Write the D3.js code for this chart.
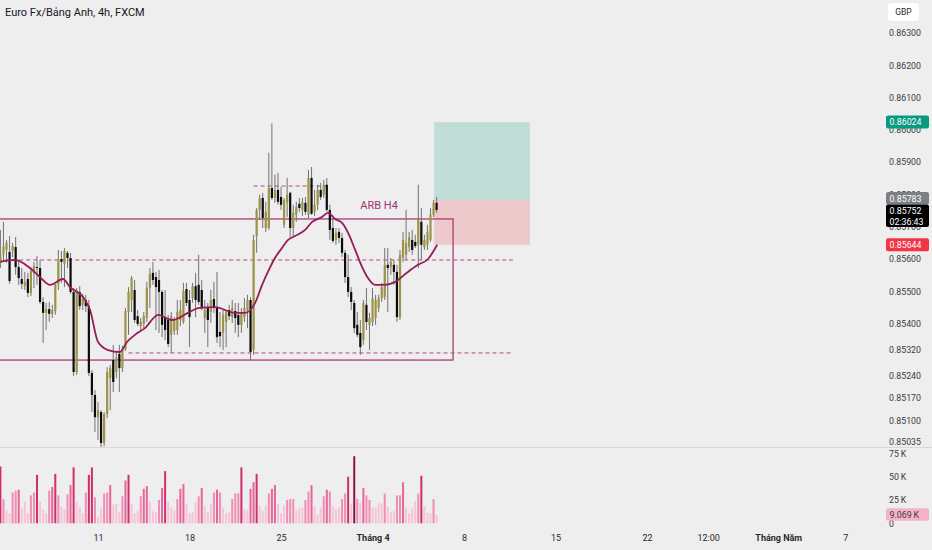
<!DOCTYPE html>
<html>
<head>
<meta charset="utf-8">
<script src="https://cdn.jsdelivr.net/npm/d3@7"></script>
<style>
  body { margin: 0; background: #eeeeee; }
  svg text { font-family: Roboto, "Noto Sans", sans-serif; }
</style>
</head>
<body>
<script>

var W = 932, H = 550;

var title = "Euro Fx/Bảng Anh, 4h, FXCM";

// 4h candles, oldest first
var opens = [0.85591,
  0.85613,0.85628,0.85622,0.85625,0.85637,0.85575,0.85538,0.85516,0.85538,0.85495,
  0.85557,0.85575,0.85572,0.85467,0.85433,0.85445,0.85430,0.85439,0.85523,0.85600,
  0.85585,0.85619,0.85603,0.85498,0.85250,0.85498,0.85458,0.85473,0.85454,0.85247,
  0.85179,0.85110,0.85126,0.85030,0.85120,0.85231,0.85287,0.85250,0.85306,0.85262,
  0.85321,0.85436,0.85473,0.85504,0.85423,0.85392,0.85399,0.85417,0.85510,0.85557,
  0.85544,0.85535,0.85498,0.85417,0.85411,0.85365,0.85377,0.85380,0.85411,0.85405,
  0.85507,0.85473,0.85479,0.85516,0.85520,0.85504,0.85417,0.85448,0.85436,0.85476,
  0.85451,0.85374,0.85371,0.85405,0.85442,0.85420,0.85439,0.85427,0.85396,0.85420,
  0.85442,0.85473,0.85318,0.85671,0.85752,0.85789,0.85696,0.85696,0.85820,0.85789,
  0.85814,0.85792,0.85706,0.85774,0.85805,0.85696,0.85737,0.85771,0.85752,0.85774,
  0.85737,0.85851,0.85746,0.85768,0.85814,0.85799,0.85830,0.85752,0.85696,0.85659,
  0.85684,0.85665,0.85619,0.85544,0.85498,0.85464,0.85396,0.85371,0.85349,0.85458,
  0.85396,0.85405,0.85417,0.85448,0.85479,0.85482,0.85582,0.85575,0.85582,0.85560,
  0.85420,0.85603,0.85613,0.85637,0.85659,0.85653,0.85644,0.85715,0.85637,0.85644,
  0.85659,0.85737,0.85774];
var highs = [0.85690,
  0.85715,0.85659,0.85671,0.85650,0.85668,0.85591,0.85572,0.85560,0.85557,0.85575,
  0.85591,0.85609,0.85597,0.85482,0.85464,0.85467,0.85458,0.85520,0.85628,0.85625,
  0.85634,0.85625,0.85619,0.85510,0.85510,0.85516,0.85492,0.85489,0.85473,0.85256,
  0.85194,0.85157,0.85132,0.85126,0.85265,0.85272,0.85334,0.85312,0.85334,0.85331,
  0.85448,0.85513,0.85547,0.85535,0.85442,0.85417,0.85436,0.85529,0.85572,0.85591,
  0.85560,0.85566,0.85504,0.85504,0.85427,0.85436,0.85420,0.85473,0.85473,0.85526,
  0.85526,0.85504,0.85526,0.85557,0.85613,0.85535,0.85473,0.85464,0.85504,0.85529,
  0.85560,0.85436,0.85442,0.85442,0.85458,0.85473,0.85464,0.85464,0.85448,0.85479,
  0.85489,0.85482,0.85675,0.85758,0.85799,0.85805,0.85777,0.85929,0.86020,0.85861,
  0.85867,0.85823,0.85789,0.85851,0.85808,0.85768,0.85777,0.85789,0.85789,0.85792,
  0.85876,0.85885,0.85814,0.85830,0.85836,0.85845,0.85851,0.85768,0.85727,0.85696,
  0.85696,0.85681,0.85628,0.85613,0.85513,0.85473,0.85436,0.85411,0.85473,0.85510,
  0.85433,0.85510,0.85489,0.85489,0.85526,0.85634,0.85634,0.85603,0.85597,0.85582,
  0.85628,0.85684,0.85752,0.85684,0.85690,0.85675,0.85830,0.85758,0.85675,0.85706,
  0.85758,0.85783,0.85792];
var lows = [0.85572,
  0.85591,0.85588,0.85523,0.85606,0.85551,0.85520,0.85507,0.85504,0.85482,0.85485,
  0.85510,0.85520,0.85461,0.85340,0.85380,0.85405,0.85417,0.85427,0.85504,0.85526,
  0.85513,0.85572,0.85492,0.85237,0.85241,0.85442,0.85442,0.85436,0.85237,0.85126,
  0.85064,0.85039,0.85017,0.85020,0.85107,0.85132,0.85188,0.85231,0.85188,0.85250,
  0.85315,0.85365,0.85436,0.85402,0.85392,0.85380,0.85386,0.85405,0.85448,0.85520,
  0.85380,0.85371,0.85358,0.85349,0.85327,0.85309,0.85365,0.85365,0.85392,0.85399,
  0.85454,0.85327,0.85464,0.85420,0.85458,0.85442,0.85371,0.85327,0.85402,0.85433,
  0.85340,0.85327,0.85318,0.85327,0.85411,0.85402,0.85371,0.85358,0.85371,0.85405,
  0.85386,0.85287,0.85303,0.85619,0.85721,0.85696,0.85684,0.85690,0.85783,0.85774,
  0.85768,0.85752,0.85696,0.85730,0.85665,0.85668,0.85715,0.85746,0.85733,0.85737,
  0.85727,0.85737,0.85733,0.85752,0.85783,0.85789,0.85746,0.85659,0.85650,0.85644,
  0.85650,0.85606,0.85526,0.85482,0.85442,0.85371,0.85358,0.85303,0.85334,0.85380,
  0.85318,0.85392,0.85396,0.85436,0.85467,0.85473,0.85436,0.85551,0.85520,0.85405,
  0.85411,0.85591,0.85597,0.85622,0.85613,0.85634,0.85572,0.85597,0.85628,0.85628,
  0.85653,0.85730,0.85743];
var closes = [0.85613,
  0.85640,0.85650,0.85532,0.85640,0.85575,0.85541,0.85523,0.85529,0.85495,0.85563,
  0.85578,0.85572,0.85467,0.85433,0.85445,0.85430,0.85442,0.85523,0.85600,0.85591,
  0.85625,0.85603,0.85498,0.85250,0.85498,0.85454,0.85479,0.85454,0.85247,0.85179,
  0.85110,0.85132,0.85030,0.85120,0.85250,0.85262,0.85219,0.85293,0.85262,0.85321,
  0.85439,0.85498,0.85541,0.85411,0.85399,0.85405,0.85423,0.85510,0.85554,0.85535,
  0.85513,0.85498,0.85396,0.85380,0.85337,0.85423,0.85411,0.85436,0.85442,0.85501,
  0.85464,0.85420,0.85516,0.85473,0.85467,0.85448,0.85442,0.85411,0.85473,0.85448,
  0.85358,0.85361,0.85427,0.85436,0.85423,0.85448,0.85417,0.85396,0.85433,0.85448,
  0.85473,0.85312,0.85659,0.85752,0.85789,0.85727,0.85746,0.85820,0.85789,0.85814,
  0.85777,0.85768,0.85783,0.85799,0.85696,0.85743,0.85761,0.85758,0.85777,0.85746,
  0.85851,0.85740,0.85768,0.85814,0.85792,0.85830,0.85752,0.85690,0.85656,0.85681,
  0.85665,0.85619,0.85544,0.85498,0.85467,0.85386,0.85365,0.85327,0.85464,0.85405,
  0.85417,0.85479,0.85473,0.85479,0.85513,0.85582,0.85572,0.85591,0.85560,0.85420,
  0.85613,0.85659,0.85650,0.85668,0.85628,0.85640,0.85721,0.85644,0.85659,0.85684,
  0.85737,0.85774,0.85752];
// volume in thousands
var volumes = [61,26,14,11,33,35,36,16,23,11, 30,33,52,23,15,11,35,39,53,30,
  18,15,31,41,60,23,17,11,33,52, 60,28,7,16,32,33,41,20,21,12,
  29,46,52,21,11,13,29,37,40,23, 13,12,25,38,56,23,17,14,26,37,
  42,21,11,12,23,29,38,19,12,21, 33,36,33,17,11,12,26,32,32,60,
  15,14,37,44,53,19,13,19,32,37, 41,21,11,19,25,26,26,14,16,17,
  25,34,41,18,9,17,29,36,34,18, 15,17,26,32,50,21,72,26,22,38,
  30,25,17,17,22,21,32,18,12,13, 30,30,44,17,11,16,24,32,51,18,
  11,11,26,9.069];

// moving average (candle index, price)
var maIdx = [0,4.8,9.7,13,16.3,20.5,22.8,27.1,29.4,32,35.3,39.2,41.5,44.1,47.4,51.7,56.3,61.5,64.8,70.4,
  76.9,80.2,83.5,85.8,87.7,90,92.3,94.3,96.6,99.9,102.2,105.4,107.4,109.7,112,114,116.3,118.6,120.5,122.8,
  126.1,129.4,133.6,136.9,140.2,143.2];
var maVals = [0.85591,0.85597,0.85572,0.85544,0.85520,0.85538,0.85513,0.85482,0.85442,0.85343,
  0.85318,0.85312,0.85343,0.85365,0.85386,0.85427,0.85411,0.85433,0.85448,0.85451,
  0.85433,0.85433,0.85464,0.85520,0.85560,0.85603,0.85634,0.85659,0.85671,0.85690,
  0.85715,0.85730,0.85743,0.85724,0.85712,0.85681,0.85628,0.85575,0.85541,0.85520,
  0.85520,0.85529,0.85560,0.85582,0.85600,0.85644];

var priceTicks = [0.863,0.862,0.861,0.860,0.859,0.858,0.857,0.856,0.855,0.854,0.8532,0.8524,0.8517,0.851,0.85035];
var volTicks = [0, 25000, 50000, 75000];
var dateIdx = [32, 62, 92, 122, 152, 182, 212, 232, 255, 277];
var dateLabels = ["11", "18", "25", "Tháng 4", "8", "15", "22", "12:00", "Tháng Năm", "7"];
var monthLabels = ["Tháng 4", "Tháng Năm"];

// drawings
var zoneTop = 0.85724, zoneBottom = 0.85287, zoneEnd = 148.4;
var levelPrices = [0.85597, 0.85309, 0.85826];
var levelFrom = [-3, 42, 83];
var levelTo = [168, 168, 108];
var posFrom = 142.2, posTo = 173.6;
var takeProfit = 0.86024, entry = 0.85783, stopLoss = 0.85644;
var lastPrice = 0.85752, countdown = "02:36:43", lastVolume = "9.069\u2009K";

var svg = d3.select("body").append("svg")
    .attr("width", W)
    .attr("height", H);

svg.append("rect").attr("width", W).attr("height", H).attr("fill", "#eeeeee");

var x = d3.scaleLinear().domain([0, 143]).range([0.4, 436.6]);
var y = d3.scaleLinear().domain([0.856, 0.863]).range([259, 33]);
var yv = d3.scaleLinear().domain([0, 75000]).range([523.3, 453.4]);

svg.append("clipPath").attr("id", "pane")
  .append("rect").attr("x", 0).attr("y", 0).attr("width", 884).attr("height", 447);
var plot = svg.append("g").attr("clip-path", "url(#pane)");

// long position tool
plot.append("rect")
  .attr("x", x(posFrom)).attr("width", x(posTo) - x(posFrom))
  .attr("y", y(takeProfit)).attr("height", y(entry) - y(takeProfit))
  .attr("fill", "rgba(8,153,129,0.2)");
plot.append("rect")
  .attr("x", x(posFrom)).attr("width", x(posTo) - x(posFrom))
  .attr("y", y(entry)).attr("height", y(stopLoss) - y(entry))
  .attr("fill", "rgba(242,54,69,0.2)");

// zone rectangle
plot.append("rect")
  .attr("x", x(-3)).attr("width", x(zoneEnd) - x(-3))
  .attr("y", y(zoneTop)).attr("height", y(zoneBottom) - y(zoneTop))
  .attr("fill", "none")
  .attr("stroke", "#a83b77")
  .attr("stroke-width", 1.3);

// dashed levels
plot.selectAll("line.level")
  .data(levelPrices)
  .enter()
  .append("line")
    .attr("class", "level")
    .attr("x1", function(d, i) { return x(levelFrom[i]); })
    .attr("x2", function(d, i) { return x(levelTo[i]); })
    .attr("y1", function(d) { return y(d); })
    .attr("y2", function(d) { return y(d); })
    .attr("stroke", "#b5497f")
    .attr("stroke-width", 1)
    .attr("stroke-dasharray", "4,3");

var candles = opens.map(function(o, i) {
  return {i: i, o: o, h: highs[i], l: lows[i], c: closes[i]};
});

// wicks
plot.selectAll("line.wick")
  .data(candles)
  .enter()
  .append("line")
    .attr("class", "wick")
    .attr("x1", function(d) { return x(d.i); })
    .attr("x2", function(d) { return x(d.i); })
    .attr("y1", function(d) { return y(d.h); })
    .attr("y2", function(d) { return y(d.l); })
    .attr("stroke", "#727272")
    .attr("stroke-width", 1);

// bodies
plot.selectAll("rect.body")
  .data(candles)
  .enter()
  .append("rect")
    .attr("class", "body")
    .attr("x", function(d) { return x(d.i) - 1.1; })
    .attr("width", 2.2)
    .attr("y", function(d) { return y(Math.max(d.o, d.c)); })
    .attr("height", function(d) { return Math.max(1, Math.abs(y(d.o) - y(d.c))); })
    .attr("fill", function(d) { return d.c >= d.o ? "#9d9346" : "#0c0c0c"; });

// moving average
var maLine = d3.line()
  .x(function(d, i) { return x(maIdx[i]); })
  .y(function(d) { return y(d); })
  .curve(d3.curveMonotoneX);
plot.append("path")
  .attr("d", maLine(maVals))
  .attr("fill", "none")
  .attr("stroke", "#961c58")
  .attr("stroke-width", 1.8);

plot.append("text")
  .attr("x", x(118))
  .attr("y", y(0.85755))
  .text("ARB H4")
  .style("font-size", "11px")
  .style("fill", "#a3336e");

// pane separator
svg.append("line")
  .attr("x1", 0).attr("x2", W)
  .attr("y1", 447.5).attr("y2", 447.5)
  .attr("stroke", "#d8d8d8");

// volume bars
function volColor(v) {
  if (v >= 65) return "#8c1445";
  if (v >= 48) return "#cf2f6c";
  if (v >= 36) return "#e8649a";
  if (v >= 25) return "#f08db2";
  return "#f6c4d6";
}
svg.selectAll("rect.vol")
  .data(volumes)
  .enter()
  .append("rect")
    .attr("class", "vol")
    .attr("x", function(d, i) { return x(i) - 1; })
    .attr("width", 2)
    .attr("y", function(d) { return yv(d * 1000); })
    .attr("height", function(d) { return yv(0) - yv(d * 1000); })
    .attr("fill", volColor);

// price axis
var pAxis = svg.append("g")
  .attr("transform", "translate(887,0)")
  .call(d3.axisRight(y).tickValues(priceTicks).tickSize(0).tickPadding(2).tickFormat(d3.format(".5f")));
pAxis.select(".domain").remove();
pAxis.selectAll("text").style("font-size", "8.8px").style("fill", "#3c3c3c");

// volume axis
var vAxis = svg.append("g")
  .attr("transform", "translate(887,0)")
  .call(d3.axisRight(yv).tickValues(volTicks).tickSize(0).tickPadding(2)
    .tickFormat(function(d) { return d === 0 ? "0" : (d / 1000) + "\u2009K"; }));
vAxis.select(".domain").remove();
vAxis.selectAll("text").style("font-size", "8.8px").style("fill", "#3c3c3c");

// time axis
var tAxis = svg.append("g")
  .attr("transform", "translate(0,530)")
  .call(d3.axisBottom(x).tickValues(dateIdx).tickSize(0).tickPadding(5)
    .tickFormat(function(d, i) { return dateLabels[i]; }));
tAxis.select(".domain").remove();
tAxis.selectAll("text")
  .style("font-size", "9px")
  .style("fill", "#2a2a2a")
  .style("font-weight", function(d, i) { return monthLabels.indexOf(dateLabels[i]) >= 0 ? "bold" : "normal"; });

// price labels on the scale
function tag(yTop, h, fill, lines, color) {
  svg.append("rect")
    .attr("x", 886).attr("y", yTop).attr("width", 43).attr("height", h)
    .attr("rx", 2).attr("fill", fill);
  lines.forEach(function(t, k) {
    svg.append("text")
      .attr("x", 889.5).attr("y", yTop + 9.6 + k * 11)
      .text(t)
      .style("font-size", "8.8px")
      .style("fill", color);
  });
}
var fmt = d3.format(".5f");
tag(y(takeProfit) - 6.5, 13, "#089981", [fmt(takeProfit)], "#ffffff");
tag(y(entry) - 8, 12.5, "#7d7f87", [fmt(entry)], "#ffffff");
tag(y(entry) + 4.5, 22.5, "#000000", [fmt(lastPrice), countdown], "#ffffff");
tag(y(stopLoss) - 6.5, 13, "#f23645", [fmt(stopLoss)], "#ffffff");
tag(yv(volumes[volumes.length - 1] * 1000) - 6.5, 12.5, "#f4b3c9", [lastVolume], "#3c3c3c");

// currency box
svg.append("rect")
  .attr("x", 888).attr("y", 3).attr("width", 31).attr("height", 18)
  .attr("rx", 3).attr("fill", "#ffffff");
svg.append("text")
  .attr("x", 903.5).attr("y", 15.2)
  .attr("text-anchor", "middle")
  .text("GBP")
  .style("font-size", "8.5px")
  .style("fill", "#2a2a2a");

// title
svg.append("text")
  .attr("x", 5).attr("y", 16)
  .text(title)
  .style("font-size", "11px")
  .style("fill", "#131722");

</script>
</body>
</html>
